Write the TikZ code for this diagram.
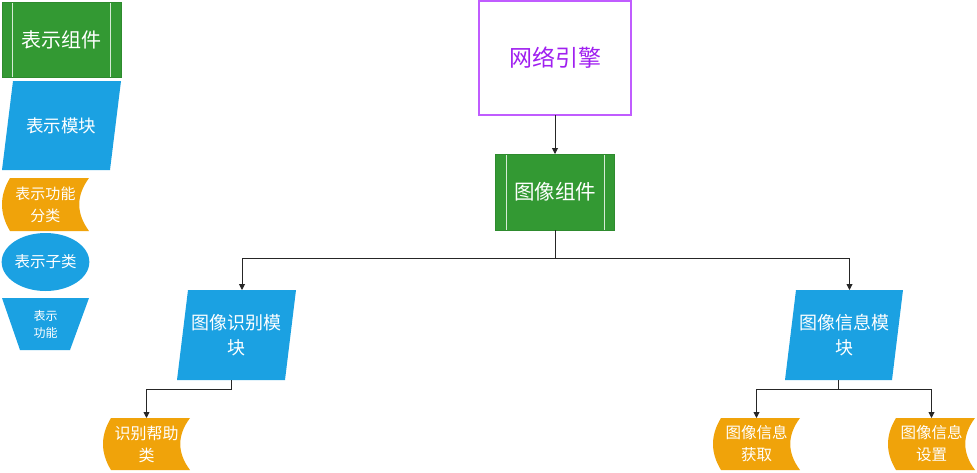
\documentclass[tikz,border=0pt]{standalone}
\usepackage{fontspec}
\newfontfamily\cjk{Noto Sans CJK SC}
\usetikzlibrary{shapes.geometric,arrows.meta,calc}
\definecolor{cgreen}{HTML}{339933}
\definecolor{cgline}{HTML}{2E8B2E}
\definecolor{cblue}{HTML}{1BA1E2}
\definecolor{corange}{HTML}{F0A30A}
\definecolor{cpurple}{HTML}{C05CFF}
\definecolor{cptext}{HTML}{A020F0}
\tikzset{
  base/.style={inner sep=0pt, outer sep=0pt, align=center, text=white},
  fs/.style 2 args={font={\cjk\fontsize{#1}{#2}\selectfont}},
  comp/.style={base, minimum width=119pt, minimum height=75pt, fill=cgreen, draw=cgline, line width=0.6pt,
    path picture={
      \draw[white!80!cgreen, line width=1pt]
        ([xshift=10.5pt]path picture bounding box.north west) -- ([xshift=10.5pt]path picture bounding box.south west)
        ([xshift=-10.5pt]path picture bounding box.north east) -- ([xshift=-10.5pt]path picture bounding box.south east);
    }},
  module/.style={base, minimum width=119pt, minimum height=90pt,
    path picture={
      \fill[cblue] ([xshift=11pt]path picture bounding box.north west) -- (path picture bounding box.north east)
        -- ([xshift=-11pt]path picture bounding box.south east) -- (path picture bounding box.south west) -- cycle;
    }},
  klass/.style={base, minimum width=87pt, minimum height=52pt,
    path picture={
      \fill[corange] let \p1=(path picture bounding box.north west), \p2=(path picture bounding box.south east) in
        (\x1+8pt,\y1) -- (\x2,\y1)
        .. controls (\x2-13pt,\y1+\y2/3-\y1/3) and (\x2-13pt,\y2+\y1/3-\y2/3) .. (\x2,\y2)
        -- (\x1+8pt,\y2)
        .. controls (\x1-2.67pt,\y2+\y1/3-\y2/3) and (\x1-2.67pt,\y1+\y2/3-\y1/3) .. (\x1+8pt,\y1) -- cycle;
    }},
  func/.style={base, minimum width=87pt, minimum height=52pt,
    path picture={
      \fill[cblue] (path picture bounding box.north west) -- (path picture bounding box.north east)
        -- ([xshift=-19pt]path picture bounding box.south east) -- ([xshift=18pt]path picture bounding box.south west) -- cycle;
    }},
  sub/.style={base, ellipse, fill=cblue, minimum width=87pt, minimum height=58pt},
  conn/.style={draw=black!85, line width=0.9pt},
  arr/.style={conn, -{Triangle[length=6pt,width=6pt]}},
}
\begin{document}
\begin{tikzpicture}[x=1pt,y=-1pt]
\useasboundingbox (0,0) rectangle (977,472);
% legend
\node[comp, fs={20}{24}] (lcomp) at (61.5,39.5) {表示组件};
\node[module, minimum height=89pt, fs={17.5}{21}] (lmod) at (61.5,125.5) {表示模块};
\node[klass, minimum height=53pt, fs={15}{22}] (lcls) at (45.5,204.5) {表示功能\\分类};
\node[sub, fs={15.5}{18}] (lsub) at (45.5,262) {表示子类};
\node[func, fs={12}{17}] (lfun) at (45.5,324) {表示\\功能};
% main
\node[base, draw=cpurple, line width=1.2pt, fill=white, text=cptext, minimum width=152pt, minimum height=114pt, fs={23}{27}] (engine) at (555,58) {网络引擎};
\node[comp, minimum height=76pt, fs={20.5}{24}] (imgcomp) at (555,192) {图像组件};
\node[module, fs={18}{25}] (recog) at (236.5,335) {图像识别模\\块};
\node[module, minimum width=118pt, fs={18}{25}] (info) at (844,335) {图像信息模\\块};
\node[klass, fs={16}{22}] (help) at (146.5,444) {识别帮助\\类};
\node[klass, fs={15.5}{22}] (get) at (756.5,444) {图像信息\\获取};
\node[klass, fs={15.5}{22}] (set) at (931.5,444) {图像信息\\设置};
% connection points
\coordinate (recogtop) at ([xshift=5.5pt]recog.north);
\coordinate (recogbot) at ([xshift=-5.5pt]recog.south);
\coordinate (infotop) at ([xshift=5.5pt]info.north);
\coordinate (infobot) at ([xshift=-5.5pt]info.south);
\coordinate (j1) at (555,258);
\coordinate (j2) at (231,389.5);
\coordinate (j3) at (838.5,389.5);
% connectors
\draw[arr] (engine.south) -- (imgcomp.north);
\draw[conn] (imgcomp.south) -- (j1);
\draw[arr] (j1) -| (recogtop);
\draw[arr] (j1) -| (infotop);
\draw[conn] (recogbot) -- (j2);
\draw[arr] (j2) -| (help.north);
\draw[conn] (infobot) -- (j3);
\draw[arr] (j3) -| (get.north);
\draw[arr] (j3) -| (set.north);
\end{tikzpicture}
\end{document}
